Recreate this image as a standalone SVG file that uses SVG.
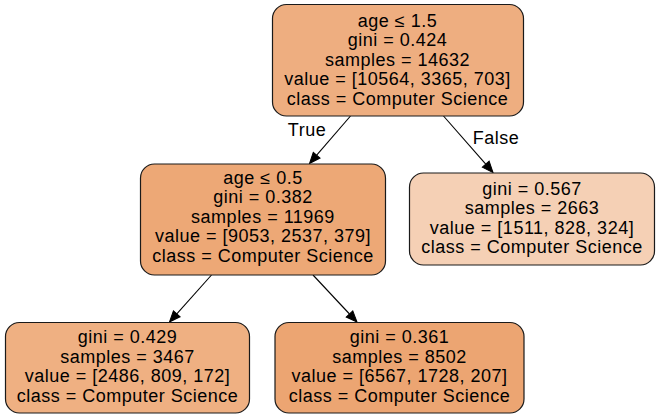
<svg xmlns="http://www.w3.org/2000/svg" width="660" height="419" viewBox="0 0 660 419">
<defs>
<marker id="arr" markerUnits="userSpaceOnUse" markerWidth="12" markerHeight="10" refX="0" refY="0" viewBox="0 -5 12 10" orient="auto" overflow="visible">
<path d="M0,-4.5 L11,0 L0,4.5 z" fill="#000" stroke="#000" stroke-width="1"/>
</marker>
<style>
.box{stroke:#1a1a1a;stroke-width:1.2}
text{font-family:"Liberation Sans",Arial,Helvetica,sans-serif;font-size:18px;letter-spacing:0.5px;text-anchor:middle;fill:#000}
.edge{stroke:#000;stroke-width:1.1;fill:none;marker-end:url(#arr)}
</style>
</defs>
<rect width="660" height="419" fill="#fff"/>
<g id="edges">
<path class="edge" d="M350.5,116 L316.7,155.2"/>
<path class="edge" d="M443.5,116 L485.75,164.2"/>
<path class="edge" d="M211.5,275 L176.8,313.8"/>
<path class="edge" d="M313,275 L349.5,314"/>
<text x="307" y="135.5">True</text>
<text x="496" y="144">False</text>
</g>
<g id="node0">
<rect class="box" x="272.5" y="4.5" width="251" height="111.5" rx="14" ry="14" fill="#eeae80"/>
<text x="397.5" y="26.5">age ≤ 1.5</text>
<text x="397.5" y="46">gini = 0.424</text>
<text x="397.5" y="65.5">samples = 14632</text>
<text x="397.5" y="85">value = [10564, 3365, 703]</text>
<text x="397.5" y="104.5">class = Computer Science</text>
</g>
<g id="node1">
<rect class="box" x="140.5" y="164" width="245" height="111" rx="14" ry="14" fill="#eda876"/>
<text x="263" y="183.5">age ≤ 0.5</text>
<text x="263" y="203">gini = 0.382</text>
<text x="263" y="222.5">samples = 11969</text>
<text x="263" y="242">value = [9053, 2537, 379]</text>
<text x="263" y="261.5">class = Computer Science</text>
</g>
<g id="node2">
<rect class="box" x="409.5" y="173" width="245" height="92" rx="14" ry="14" fill="#f5d0b5"/>
<text x="532" y="194.5">gini = 0.567</text>
<text x="532" y="214">samples = 2663</text>
<text x="532" y="233.5">value = [1511, 828, 324]</text>
<text x="532" y="253">class = Computer Science</text>
</g>
<g id="node3">
<rect class="box" x="5.5" y="322.5" width="244" height="90.5" rx="14" ry="14" fill="#efb082"/>
<text x="127.5" y="343">gini = 0.429</text>
<text x="127.5" y="362.5">samples = 3467</text>
<text x="127.5" y="382">value = [2486, 809, 172]</text>
<text x="127.5" y="401.5">class = Computer Science</text>
</g>
<g id="node4">
<rect class="box" x="275" y="322.5" width="249" height="90.5" rx="14" ry="14" fill="#eca572"/>
<text x="399.5" y="343">gini = 0.361</text>
<text x="399.5" y="362.5">samples = 8502</text>
<text x="399.5" y="382">value = [6567, 1728, 207]</text>
<text x="399.5" y="401.5">class = Computer Science</text>
</g>
</svg>
